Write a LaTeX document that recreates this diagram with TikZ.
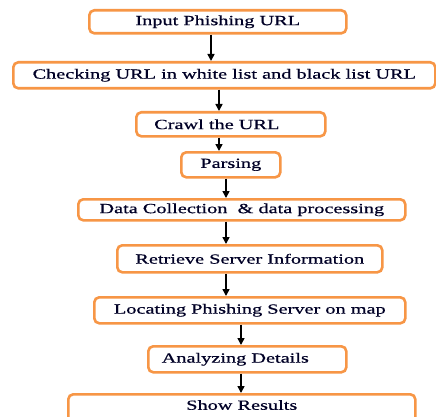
\documentclass[tikz,border=0pt]{standalone}
\usepackage{fontspec}
\setmainfont[FakeStretch=1.45,FakeBold=0.6]{Liberation Serif}
\usetikzlibrary{arrows.meta}
\definecolor{boxorange}{HTML}{F79646}
\begin{document}
\begin{tikzpicture}[x=1pt,y=-1pt,
  stepbox/.style={draw=boxorange, line width=2.6pt, rounded corners=5pt,
    fill=white, inner sep=0pt, anchor=north west,
    font=\fontsize{14}{16}\selectfont, text=black!85!blue},
  flow/.style={-{Triangle[length=7pt,width=7pt]}, line width=1.6pt, black}]
\path[use as bounding box, clip] (0,0) rectangle (436,417);
\fill[white] (0,0) rectangle (436,417);

% process steps
\node[stepbox, minimum width=257pt, minimum height=23pt] (b1) at (88,9) {Input Phishing URL};
\node[stepbox, minimum width=422pt, minimum height=26pt] (b2) at (12,61) {Checking URL in white list and black list URL};
\node[stepbox, minimum width=189pt, minimum height=24pt] (b3) at (135,111) {Crawl the URL\hspace*{28pt}};
\node[stepbox, minimum width=99pt, minimum height=25pt] (b4) at (180,151) {Parsing};
\node[stepbox, minimum width=327pt, minimum height=21pt] (b5) at (77,198) {Data Collection \ \& data processing};
\node[stepbox, minimum width=265pt, minimum height=27pt] (b6) at (116,244) {Retrieve Server Information};
\node[stepbox, minimum width=311pt, minimum height=26pt] (b7) at (93,296) {Locating Phishing Server on map};
\node[stepbox, minimum width=198pt, minimum height=26pt] (b8) at (147,345) {Analyzing Details\hspace*{24pt}};
\node[stepbox, minimum width=347pt, minimum height=32pt, text height=9pt, text depth=10pt] (b9) at (67,393) {Show Results};

% vertical positions of the connectors
\coordinate (a1) at (211,0);
\coordinate (a2) at (219,0);
\coordinate (a4) at (226,0);
\coordinate (a7) at (241,0);

\draw[flow] (b1.south -| a1) -- (b2.north -| a1);
\draw[flow] (b2.south -| a2) -- (b3.north -| a2);
\draw[flow] (b3.south -| a2) -- (b4.north -| a2);
\draw[flow] (b4.south -| a4) -- (b5.north -| a4);
\draw[flow] (b5.south -| a4) -- (b6.north -| a4);
\draw[flow] (b6.south -| a4) -- (b7.north -| a4);
\draw[flow] (b7.south -| a7) -- (b8.north -| a7);
\draw[flow] (b8.south -| a7) -- (b9.north -| a7);
\end{tikzpicture}
\end{document}
